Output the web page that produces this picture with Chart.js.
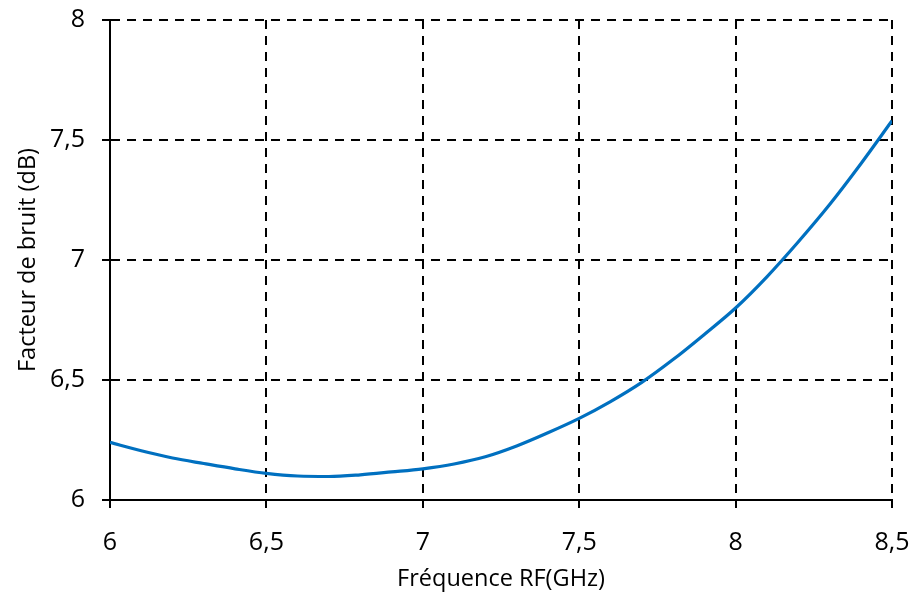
<!DOCTYPE html>
<html>
<head>
<meta charset="utf-8">
<style>
  html, body { margin: 0; padding: 0; background: #fff; }
  #wrap { width: 914px; height: 595px; }
</style>
</head>
<body>
<div id="wrap">
  <canvas id="my-chart" width="914" height="595"></canvas>
</div>

<script src="https://cdn.jsdelivr.net/npm/chart.js"></script>

<script>
  // frequence RF (GHz) et facteur de bruit (dB)
  const freqs = [6.0, 6.1, 6.2, 6.3, 6.4, 6.5, 6.6, 6.7, 6.8, 6.9, 7.0, 7.1, 7.2, 7.3, 7.4, 7.5, 7.6, 7.7, 7.8, 7.9, 8.0, 8.1, 8.2, 8.3, 8.4, 8.5]
  const noiseFig = [6.24, 6.205, 6.175, 6.152, 6.13, 6.111, 6.100, 6.098, 6.105, 6.117, 6.13, 6.15, 6.18, 6.225, 6.28, 6.34, 6.41, 6.49, 6.585, 6.69, 6.80, 6.93, 7.075, 7.23, 7.40, 7.58]

  const xTicks = [6, 6.5, 7, 7.5, 8, 8.5]
  const yTicks = [6, 6.5, 7, 7.5, 8]

  const fmt = v => String(v).replace('.', ',')
  const tickFont = { family: 'Open Sans', size: 25 }
  const titleFont = { family: 'Open Sans', size: 23.5 }

  let ctx = document.getElementById('my-chart').getContext('2d');

  const chart = new Chart(ctx, {
    type: 'line',
    data: {
      datasets: [{
        data: freqs.map((f, i) => ({ x: f, y: noiseFig[i] })),
        borderColor: '#0070C0',
        borderWidth: 3.2,
        pointRadius: 0,
        tension: 0.4,
        cubicInterpolationMode: 'monotone',
        fill: false,
      }]
    },
    options: {
      responsive: false,
      animation: false,
      layout: { padding: { top: 20, right: 22, left: 0, bottom: 0 } },
      plugins: { legend: { display: false }, tooltip: { enabled: false } },
      scales: {
        x: {
          type: 'linear',
          min: 6, max: 8.5,
          afterBuildTicks: s => { s.ticks = xTicks.map(v => ({ value: v })) },
          afterFit: s => { s.height = 95; s.paddingLeft = 0; s.paddingRight = 0 },
          ticks: { color: '#000', font: tickFont, padding: 20, maxRotation: 0, callback: v => fmt(v) },
          grid: { color: '#000', lineWidth: 2, tickLength: 8, tickColor: '#000', tickWidth: 2 },
          border: { color: '#000', width: 2, dash: [9, 7] },
          title: { display: true, text: 'Fréquence RF(GHz)', color: '#000', font: titleFont, padding: { top: 2, bottom: 2 } },
        },
        y: {
          min: 6, max: 8,
          afterBuildTicks: s => { s.ticks = yTicks.map(v => ({ value: v })) },
          afterFit: s => { s.width = 110; s.paddingTop = 0; s.paddingBottom = 0 },
          ticks: { color: '#000', font: tickFont, padding: 17, callback: v => fmt(v) },
          grid: { color: '#000', lineWidth: 2, tickLength: 8, tickColor: '#000', tickWidth: 2 },
          border: { color: '#000', width: 2, dash: [9, 7] },
          title: { display: true, text: 'Facteur de bruit (dB)', color: '#000', font: titleFont, padding: { top: 14, bottom: 4 } },
        }
      },
    }
  });
</script>
</body>
</html>
